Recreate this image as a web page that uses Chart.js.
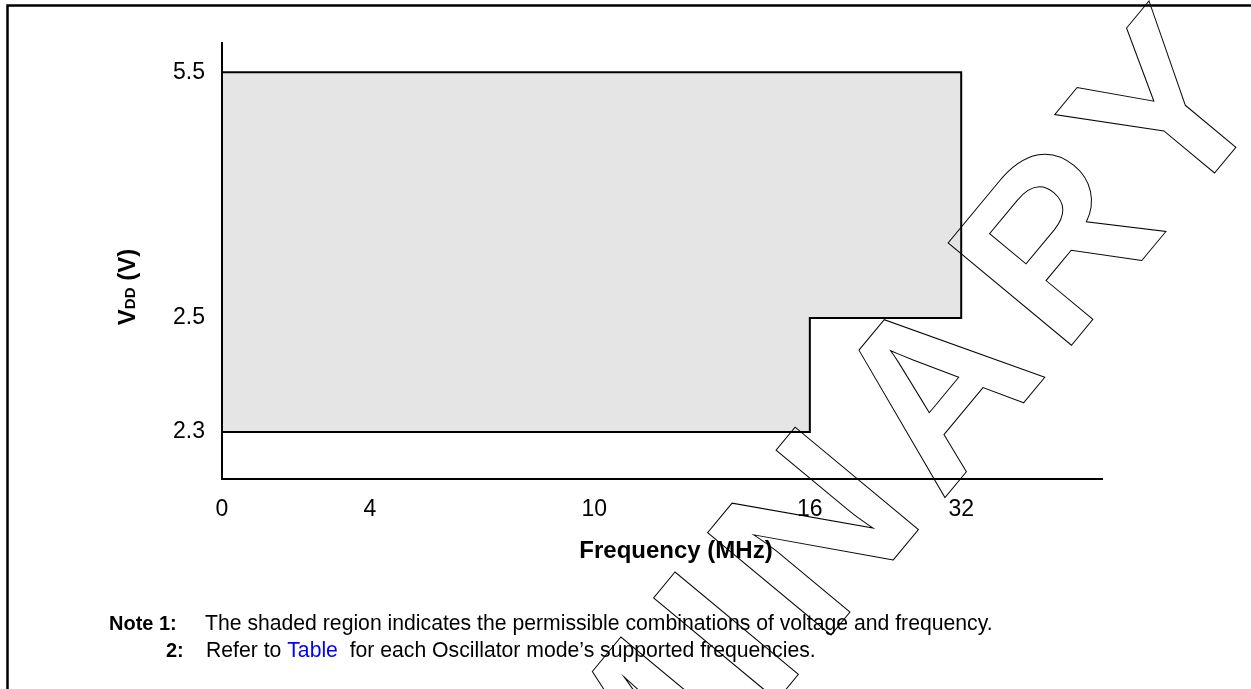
<!DOCTYPE html>
<html>
<head>
<meta charset="utf-8">
<title>VDD vs Frequency</title>
<script src="https://cdn.jsdelivr.net/npm/chart.js@4.4.1/dist/chart.umd.min.js"></script>
<style>
    html, body { margin: 0; background: #fff; }
    canvas { display: block; }
</style>
</head>
<body>
<canvas id="vddChart" width="1251" height="689"></canvas>
<script>
// data
const freqTicks = [0, 4, 10, 16, 32];          // MHz
const vddTicks = [2.3, 2.5, 5.5];              // V
const regionFreq = [0, 0, 32, 32, 16, 16, 0];  // outline of the shaded region
const regionVdd = [2.3, 5.5, 5.5, 2.5, 2.5, 2.3, 2.3];

// the figure is schematic: ticks are not evenly scaled, so each tick gets
// a fraction of the axis length
const freqSpacing = [0, 0.168, 0.423, 0.668, 0.840];
const vddSpacing = [0.108, 0.369, 0.933];

const stops = {
    x: { values: freqTicks, fracs: freqSpacing },
    y: { values: vddTicks, fracs: vddSpacing }
};

function interp(from, to, v) {
    let i = 0;
    while (i < from.length - 2 && v > from[i + 1]) i++;
    return to[i] + (v - from[i]) / (from[i + 1] - from[i]) * (to[i + 1] - to[i]);
}

class SchematicScale extends Chart.LinearScale {
    determineDataLimits() {
        const vals = stops[this.id].values;
        this.min = vals[0];
        this.max = vals[vals.length - 1];
    }
    buildTicks() {
        return stops[this.id].values.map(v => ({ value: v }));
    }
    getPixelForValue(value) {
        const s = stops[this.id];
        return this.getPixelForDecimal(interp(s.values, s.fracs, value));
    }
    getValueForPixel(pixel) {
        const s = stops[this.id];
        return interp(s.fracs, s.values, this.getDecimalForPixel(pixel));
    }
}
SchematicScale.id = 'schematic';
SchematicScale.defaults = {};
Chart.register(SchematicScale);

const FONT = '"Liberation Sans", Arial, sans-serif';

const decorations = {
    id: 'decorations',
    afterDraw(chart) {
        const ctx = chart.ctx;
        ctx.save();

        // frame
        ctx.strokeStyle = '#000';
        ctx.lineWidth = 2.5;
        ctx.beginPath();
        ctx.moveTo(7.5, 689);
        ctx.lineTo(7.5, 5.5);
        ctx.lineTo(1251, 5.5);
        ctx.stroke();

        ctx.fillStyle = '#000';
        ctx.textBaseline = 'alphabetic';

        // x title
        ctx.font = 'bold 24px ' + FONT;
        ctx.textAlign = 'center';
        ctx.fillText('Frequency (MHz)', 676, 558);

        // y title: V + small DD + (V)
        ctx.save();
        ctx.translate(126, 287);
        ctx.rotate(-Math.PI / 2);
        ctx.textAlign = 'left';
        const parts = [['V', 'bold 24px '], ['DD', 'bold 15px '], [' (V)', 'bold 24px ']];
        let total = 0;
        parts.forEach(p => { ctx.font = p[1] + FONT; total += ctx.measureText(p[0]).width; });
        let px = -total / 2;
        parts.forEach(p => {
            ctx.font = p[1] + FONT;
            ctx.fillText(p[0], px, 8.6);
            px += ctx.measureText(p[0]).width;
        });
        ctx.restore();

        // notes
        ctx.textAlign = 'left';
        ctx.font = 'bold 20px ' + FONT;
        ctx.fillText('Note', 109, 630);
        ctx.fillText('1:', 159, 630);
        ctx.fillText('2:', 166, 657);
        ctx.font = '21.2px ' + FONT;
        ctx.fillText('The shaded region indicates the permissible combinations of voltage and frequency.', 205, 630);
        let nx = 206;
        ctx.fillText('Refer to ', nx, 657);
        nx += ctx.measureText('Refer to ').width;
        ctx.fillStyle = '#0000ff';
        ctx.fillText('Table', nx, 657);
        nx += ctx.measureText('Table').width;
        ctx.fillStyle = '#000';
        ctx.fillText('  for each Oscillator mode\u2019s supported frequencies.', nx, 657);

        // watermark
        const wm = 'PRELIMINARY';
        const spacing = 20;
        ctx.rotate(-50.3 * Math.PI / 180);
        ctx.font = 'bold 233px ' + FONT;
        ctx.strokeStyle = '#000';
        ctx.lineWidth = 1;
        let pre = 0;
        for (let i = 0; i < 8; i++) pre += ctx.measureText(wm[i]).width + spacing;
        let s = 215 - pre;
        for (const ch of wm) {
            if (ch === 'Y') s -= 10; // R-Y kerning
            ctx.strokeText(ch, s, 1045);
            s += ctx.measureText(ch).width + spacing;
        }

        ctx.restore();
    }
};

const ctx = document.getElementById('vddChart').getContext('2d');
const vddChart = new Chart(ctx, {
    type: 'scatter',
    data: {
        datasets: [{
            label: 'Operating region',
            data: regionFreq.map((f, i) => ({ x: f, y: regionVdd[i] })),
            showLine: true,
            tension: 0,
            borderColor: '#000',
            borderWidth: 2,
            borderJoinStyle: 'miter',
            backgroundColor: '#e5e5e5',
            fill: 'shape',
            pointRadius: 0
        }]
    },
    options: {
        responsive: false,
        animation: false,
        events: [],
        layout: { padding: { left: 0, right: 149, top: 43, bottom: 120 } },
        plugins: {
            legend: { display: false },
            tooltip: { enabled: false }
        },
        scales: {
            x: {
                type: 'schematic',
                position: 'bottom',
                grid: { display: false, drawTicks: false },
                border: { display: true, color: '#000', width: 2 },
                ticks: {
                    autoSkip: false,
                    maxRotation: 0,
                    padding: 17,
                    color: '#000',
                    font: { family: FONT, size: 23 },
                    callback: v => String(v)
                },
                afterFit: scale => { scale.height = 90; }
            },
            y: {
                type: 'schematic',
                position: 'left',
                grid: { display: false, drawTicks: false },
                border: { display: true, color: '#000', width: 2 },
                ticks: {
                    autoSkip: false,
                    padding: 17,
                    color: '#000',
                    font: { family: FONT, size: 23 },
                    callback: v => String(v)
                },
                afterFit: scale => { scale.width = 222; }
            }
        }
    },
    plugins: [decorations]
});
</script>
</body>
</html>
